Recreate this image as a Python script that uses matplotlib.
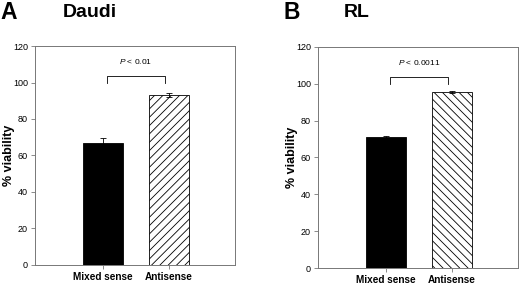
import matplotlib
matplotlib.use("Agg")
import matplotlib.pyplot as plt

plt.rcParams['font.family'] = ['Liberation Sans', 'DejaVu Sans']
plt.rcParams['hatch.linewidth'] = 0.6
plt.rcParams['mathtext.fontset'] = 'custom'
plt.rcParams['mathtext.it'] = 'Liberation Sans:italic'
plt.rcParams['mathtext.rm'] = 'Liberation Sans'

groups = ["Mixed sense", "Antisense"]
daudi_vals = [67, 93]
daudi_err = [2.5, 1.0]
rl_vals = [71, 95.5]
rl_err = [0.6, 0.5]
yticks = [0, 20, 40, 60, 80, 100, 120]

panels = [
    ("A", "Daudi", daudi_vals, daudi_err, "P < 0.01", "////", [0.067, 0.067, 0.385, 0.771]),
    ("B", "RL", rl_vals, rl_err, "P < 0.0011", "\\\\\\\\", [0.6115, 0.056, 0.385, 0.779]),
]
xpos = [1.7, 3.35]

fig = plt.figure(figsize=(5.2, 2.84), dpi=100)
for letter, name, vals, errs, ptxt, hatch, rect in panels:
    ax = fig.add_axes(rect)
    ax.bar(xpos[0], vals[0], width=1.0, color="black", edgecolor="black", linewidth=0.6,
           yerr=errs[0], error_kw=dict(ecolor="black", elinewidth=0.6, capsize=2, capthick=0.6))
    ax.bar(xpos[1], vals[1], width=1.0, color="white", edgecolor="black", linewidth=0.6,
           hatch=hatch,
           yerr=errs[1], error_kw=dict(ecolor="black", elinewidth=0.6, capsize=2, capthick=0.6))
    ax.set_xlim(0, 5)
    ax.set_ylim(0, 120)
    ax.set_yticks(yticks)
    ax.set_xticks(xpos)
    ax.set_xticklabels(groups, fontsize=7.2, fontweight="bold")
    ax.tick_params(axis="y", labelsize=6.5, length=3, width=0.6, color="#777777", pad=2)
    ax.tick_params(axis="x", length=3, width=0.6, color="#777777", pad=2)
    for sp in ax.spines.values():
        sp.set_color("#777777")
        sp.set_linewidth(0.7)
    ax.set_ylabel("% viability", fontsize=9, fontweight="bold")
    ax.yaxis.set_label_coords(-0.10, 0.5)
    # significance bracket
    top = 103.8
    ax.plot([xpos[0] + 0.1, xpos[0] + 0.1, xpos[1] - 0.1, xpos[1] - 0.1],
            [100, top, top, 100], color="black", linewidth=0.6)
    ax.text((xpos[0] + xpos[1]) / 2, 111.5, ptxt.replace("P", "$\\it{P}$"),
            ha="center", va="center", fontsize=6)
    x0 = rect[0]
    fig.text(x0 - 0.066, 0.955, letter, fontsize=16.5, fontweight="bold", ha="left", va="center")
    fig.text(x0 + (0.053 if letter == "A" else 0.05), 0.955, name, fontsize=14,
             fontweight="bold", ha="left", va="center")

fig.savefig("out.png", dpi=100)
